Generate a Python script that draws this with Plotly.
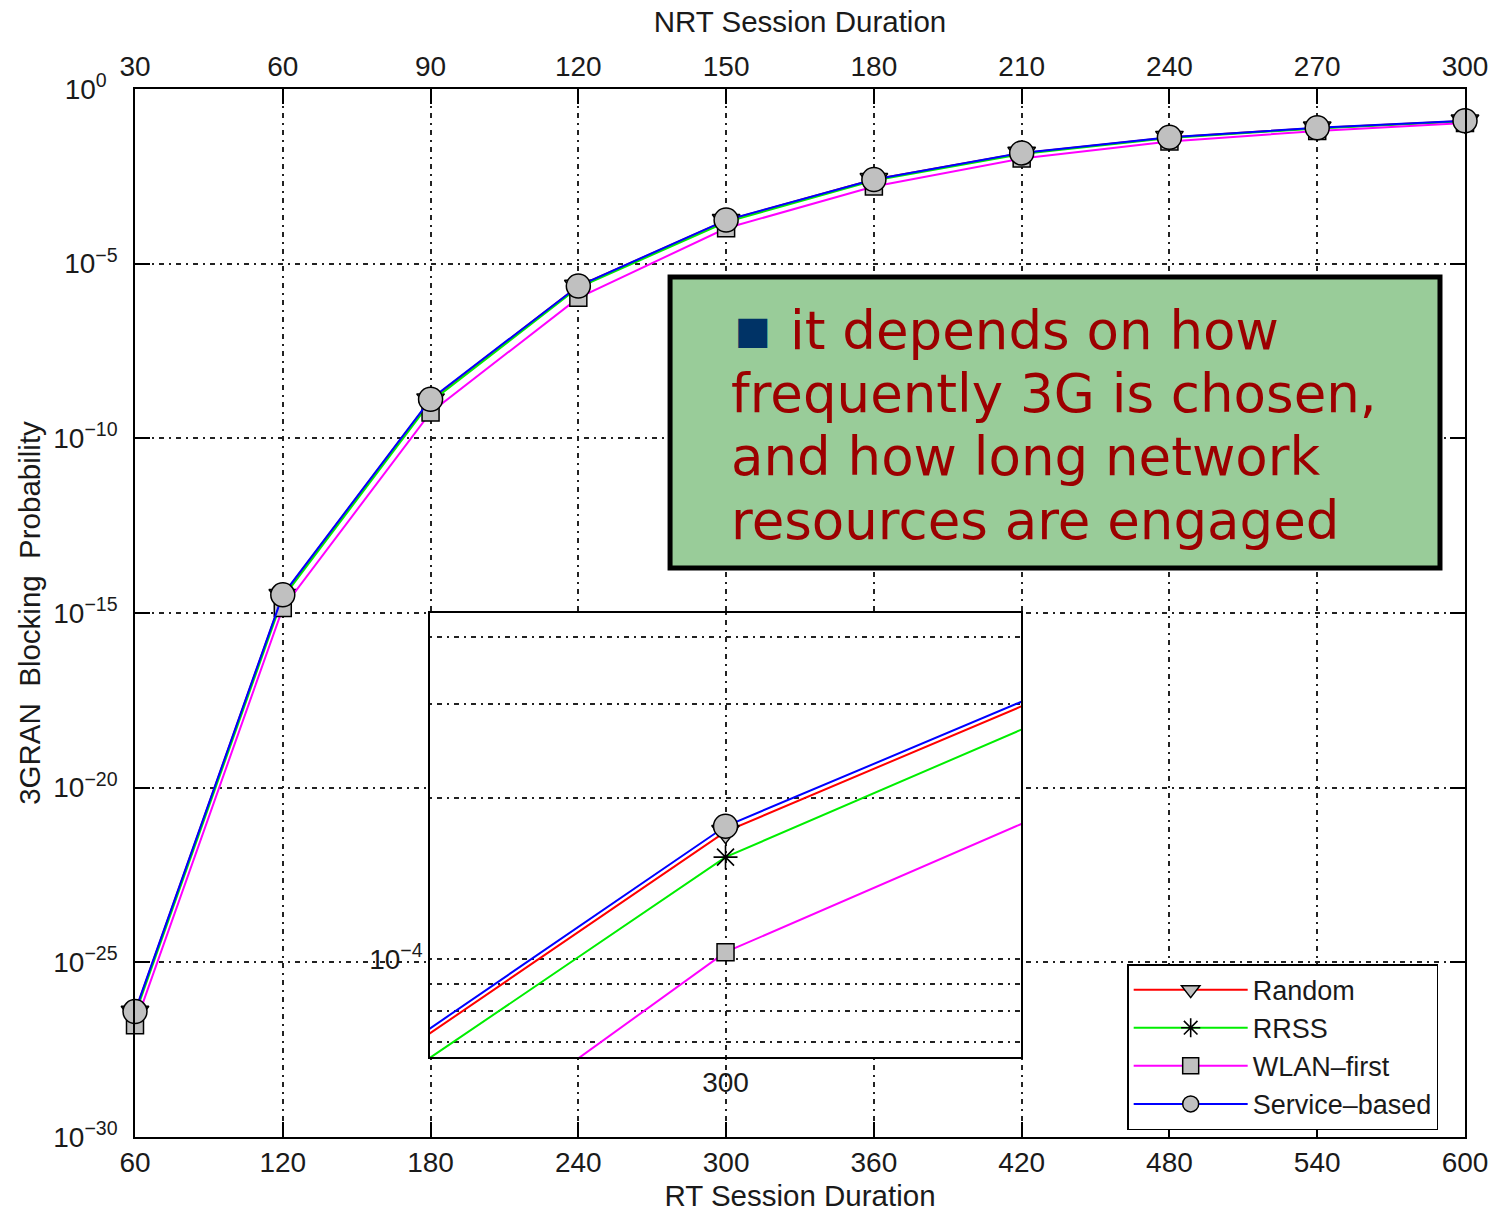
import math
import plotly.graph_objects as go

# ---------------- data ----------------
rt_duration = [60, 120, 180, 240, 300, 360, 420, 480, 540, 600]
nrt_duration = [30, 60, 90, 120, 150, 180, 210, 240, 270, 300]

random_p = [3.72e-27, 3.16e-15, 1.26e-9, 2.26e-6, 1.73e-4, 2.55e-3, 1.45e-2, 4.12e-2, 7.67e-2, 1.22e-1]
rrss_p = [3.16e-27, 2.69e-15, 1.10e-9, 2.07e-6, 1.55e-4, 2.40e-3, 1.38e-2, 3.98e-2, 7.41e-2, 1.19e-1]
wlan_first_p = [1.58e-27, 1.38e-15, 5.50e-10, 1.05e-6, 1.03e-4, 1.62e-3, 1.02e-2, 3.16e-2, 6.31e-2, 1.07e-1]
service_based_p = [3.89e-27, 3.31e-15, 1.32e-9, 2.29e-6, 1.77e-4, 2.57e-3, 1.48e-2, 4.17e-2, 7.76e-2, 1.23e-1]

y_tick_exponents = [0, -5, -10, -15, -20, -25, -30]
y_tick_labels = ["10<sup>0\u00a0\u00a0</sup>", "10<sup>\u22125</sup>", "10<sup>\u221210</sup>",
                 "10<sup>\u221215</sup>", "10<sup>\u221220</sup>", "10<sup>\u221225</sup>",
                 "10<sup>\u221230</sup>"]
inset_y_ticks = [7e-5, 8e-5, 9e-5, 1e-4, 2e-4, 3e-4, 4e-4]
inset_y_labels = ["", "", "", "10<sup>\u22124</sup>", "", "", ""]
inset_x_range = [288, 312]
inset_y_limits = [6.56e-5, 4.43e-4]

note_lines = ["it depends on how", "frequently 3G is chosen,", "and how long network", "resources are engaged"]

# ---------------- styling ----------------
FONT = "Liberation Sans, Arial, Helvetica, sans-serif"
NOTE_FONT = "DejaVu Sans, Verdana, sans-serif"
GRID = "2px,5px,5px,5px"
MARKER_FILL = "#c0c0c0"
TXT = "#1a1a1a"

series = [
    ("Random", random_p, "#ff0000", "triangle-down", 24),
    ("RRSS", rrss_p, "#00ee00", "asterisk-open", 20),
    ("WLAN\u2013first", wlan_first_p, "#ff00ff", "square", 17),
    ("Service\u2013based", service_based_p, "#0000ff", "circle", 24),
]


def marker_for(symbol, size):
    if symbol.startswith("asterisk"):
        return dict(symbol=symbol, size=size, color="black", line=dict(color="black", width=1.6))
    return dict(symbol=symbol, size=size, color=MARKER_FILL, line=dict(color="black", width=1.5))


fig = go.Figure()

for name, vals, color, symbol, size in series:
    fig.add_trace(go.Scatter(
        x=rt_duration, y=vals, name=name, mode="lines+markers",
        line=dict(color=color, width=2), marker=marker_for(symbol, size),
        xaxis="x", yaxis="y", cliponaxis=False))

# invisible trace bound to the top (NRT) axis
fig.add_trace(go.Scatter(
    x=nrt_duration, y=service_based_p, xaxis="x2", yaxis="y", mode="lines",
    line=dict(width=0), opacity=0, showlegend=False, hoverinfo="skip"))

# inset traces
for name, vals, color, symbol, size in series:
    fig.add_trace(go.Scatter(
        x=rt_duration, y=vals, name=name, mode="lines+markers",
        line=dict(color=color, width=2), marker=marker_for(symbol, size), showlegend=False,
        xaxis="x3", yaxis="y3", cliponaxis=True))

axis_common = dict(
    showline=True, linecolor="black", linewidth=1.5,
    tickfont=dict(family=FONT, size=28, color=TXT),
    zeroline=False, automargin=False,
)
title_font = dict(family=FONT, size=29.5, color=TXT)

fig.update_layout(
    width=1497, height=1212,
    margin=dict(l=135, r=32, t=89, b=75),
    paper_bgcolor="white", plot_bgcolor="white",
    font=dict(family=FONT, size=28, color=TXT),
    xaxis=dict(
        **axis_common,
        range=[60, 600], tickvals=rt_duration, ticks="inside", ticklen=15,
        tickwidth=1.5, tickcolor="black", mirror=True,
        showgrid=True, gridcolor="#222", gridwidth=1.5, griddash=GRID,
        title=dict(text="RT Session Duration", font=title_font, standoff=8),
    ),
    xaxis2=dict(
        **axis_common,
        overlaying="x", side="top", anchor="y",
        range=[30, 300], tickvals=nrt_duration, ticks="inside", ticklen=15,
        tickwidth=1.5, tickcolor="black", showgrid=False,
        title=dict(text="NRT Session Duration", font=title_font, standoff=10),
    ),
    yaxis=dict(
        **axis_common,
        type="log", range=[-30, 0],
        tickvals=[10.0 ** e for e in y_tick_exponents],
        ticktext=y_tick_labels,
        ticks="inside", ticklen=15, tickwidth=1.5, tickcolor="black", mirror="ticks",
        ticklabelstandoff=10,
        showgrid=True, gridcolor="#222", gridwidth=1.5, griddash=GRID,
        title=dict(text="3GRAN  Blocking  Probability", font=title_font, standoff=4),
    ),
    xaxis3=dict(
        **axis_common,
        domain=[0.2218, 0.6662], anchor="y3",
        range=inset_x_range, tickvals=[300], ticktext=["300"],
        ticks="", mirror=True,
        showgrid=True, gridcolor="#222", gridwidth=1.5, griddash=GRID,
    ),
    yaxis3=dict(
        **axis_common,
        domain=[0.0763, 0.5], anchor="x3", type="log",
        range=[math.log10(inset_y_limits[0]), math.log10(inset_y_limits[1])],
        tickvals=inset_y_ticks, ticktext=inset_y_labels,
        ticks="", mirror=True,
        showgrid=True, gridcolor="#222", gridwidth=1.5, griddash=GRID,
    ),
    legend=dict(
        x=0.746, y=0.165, xanchor="left", yanchor="top",
        bgcolor="white", bordercolor="black", borderwidth=1.5,
        font=dict(family=FONT, size=27, color=TXT),
        itemwidth=114, tracegroupgap=0,
    ),
    showlegend=True,
)

# green note box
fig.add_shape(type="rect", xref="paper", yref="paper",
              x0=0.4023, x1=0.9812, y0=0.5429, y1=0.8206,
              fillcolor="#99cc99", line=dict(color="black", width=5), layer="above")

# bullet
fig.add_annotation(xref="paper", yref="paper", x=0.4496, y=0.7705,
                   xanchor="left", yanchor="middle", showarrow=False,
                   text="\u25a0", font=dict(family=NOTE_FONT, size=38, color="#003366"))

line_x = [0.491, 0.4466, 0.4466, 0.4466]
line_y = [0.7691, 0.7090, 0.6489, 0.5887]
for txt, lx, ly in zip(note_lines, line_x, line_y):
    fig.add_annotation(xref="paper", yref="paper", x=lx, y=ly,
                       xanchor="left", yanchor="middle", align="left", showarrow=False,
                       text=txt, font=dict(family=NOTE_FONT, size=53, color="#9c0000"))

fig.write_html("out.html")
